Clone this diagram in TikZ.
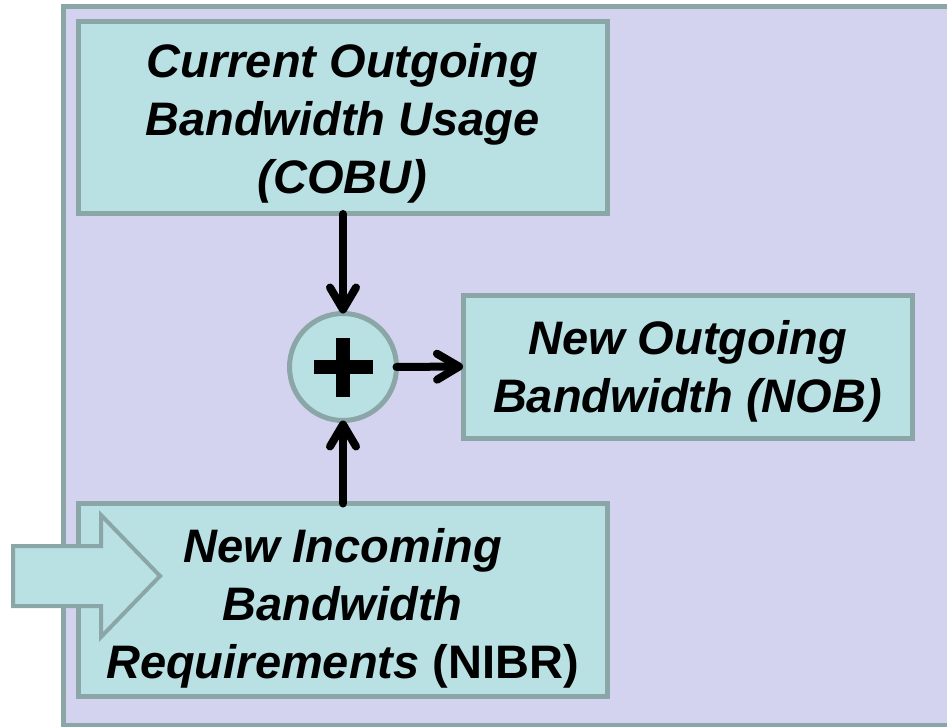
\documentclass[tikz,border=0pt]{standalone}
\usepackage{fontspec}
\setmainfont{Liberation Sans}
\usetikzlibrary{arrows.meta}
\definecolor{panelfill}{RGB}{211,211,239}
\definecolor{boxfill}{RGB}{185,224,227}
\definecolor{edgecol}{RGB}{138,166,166}
\begin{document}
\begin{tikzpicture}[x=1pt,y=-1pt,
  every node/.style={inner sep=0pt,outer sep=0pt},
  boxnode/.style={draw=edgecol,fill=boxfill,line width=5pt,rectangle},
  boxtext/.style={align=center,font=\fontsize{47}{58}\selectfont\bfseries\itshape},
  conn/.style={line width=8pt,line cap=round,-{Straight Barb[length=22pt,width=26pt,line cap=round,line join=round]}}]
\useasboundingbox (0,0) rectangle (947,727);
% panel
\draw[draw=edgecol,fill=panelfill,line width=5pt] (63,7) rectangle (960,725);
% boxes
\node[boxnode,minimum width=529pt,minimum height=192pt] (cobu) at (342.5,118) {};
\node[boxtext] (cobutext) at ([yshift=-5pt]cobu.center) {Current Outgoing\\Bandwidth Usage\\(COBU)};
\node[boxnode,minimum width=449pt,minimum height=143pt] (nob) at (687.5,366.5) {};
\node[boxtext] (nobtext) at ([yshift=-5pt]nob.center) {New Outgoing\\Bandwidth (NOB)};
\node[boxnode,minimum width=529pt,minimum height=193pt] (nibr) at (342.5,600) {};
\node[boxtext] (nibrtext) at ([yshift=-8pt]nibr.center) {New Incoming\\Bandwidth\\Requirements {\upshape(NIBR)}};
% summing junction
\node[draw=edgecol,fill=boxfill,line width=5pt,circle,minimum size=107pt] (sum) at (343,367) {};
\fill (sum.center) ++(-29.5,-7) rectangle ++(59,14);
\fill (sum.center) ++(-7,-29.5) rectangle ++(14,59);
% connectors
\draw[conn] (sum |- cobu.south) -- (sum.north);
\draw[conn] (sum |- nibr.north) -- (sum.south);
\draw[conn] (sum.east) -- (nob.west);
% incoming block arrow
\draw[draw=edgecol,fill=boxfill,line width=4pt,line join=miter]
  (13,546) -- (101,546) -- (101,515) -- (160,576) -- (101,637) -- (101,606) -- (13,606) -- cycle;
\end{tikzpicture}
\end{document}
